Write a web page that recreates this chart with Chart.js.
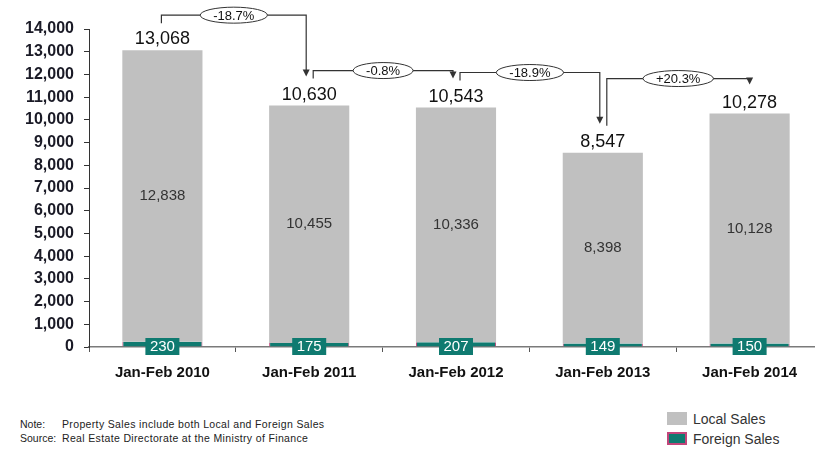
<!DOCTYPE html>
<html>
<head>
<meta charset="utf-8">
<script src="https://cdn.jsdelivr.net/npm/chart.js@4/dist/chart.umd.min.js"></script>
<style>
  html, body { margin: 0; padding: 0; background: #fff; }
  #wrap { position: relative; width: 815px; height: 452px; overflow: hidden; }
  #salesChart { position: absolute; left: 0; top: 0; }
  .note { position: absolute; left: 20px; font: 10.5px "Liberation Sans", Arial, sans-serif; letter-spacing: 0.35px; color: #222; }
  .note span { display: inline-block; width: 42px; letter-spacing: 0; }
  .legend { position: absolute; left: 667px; font: 14px "Liberation Sans", Arial, sans-serif; color: #333; }
  .legend i { display: inline-block; width: 20px; height: 13px; vertical-align: -1px; margin-right: 6px; box-sizing: border-box; }
</style>
</head>
<body>
<div id="wrap">
  <canvas id="salesChart" width="823" height="390"></canvas>
  <div class="note" style="top:418px"><span>Note:</span>Property Sales include both Local and Foreign Sales</div>
  <div class="note" style="top:432px"><span>Source:</span>Real Estate Directorate at the Ministry of Finance</div>
  <div id="legend"></div>
</div>
<script>
// Property sales, Jan-Feb of each year
const categories = ["Jan-Feb 2010", "Jan-Feb 2011", "Jan-Feb 2012", "Jan-Feb 2013", "Jan-Feb 2014"];
const localSales = [12838, 10455, 10336, 8398, 10128];
const foreignSales = [230, 175, 207, 149, 150];
const yMax = 14000;
const yStep = 1000;

const LOCAL_COLOR = "#c0c0c0";
const FOREIGN_COLOR = "#0f7a70";
const FOREIGN_EDGE = "#c2457a";
const FONT = '"Liberation Sans", Arial, sans-serif';

const totals = localSales.map((v, i) => v + foreignSales[i]);
const fmt = n => n.toLocaleString("en-US");

// value labels, totals and the year-on-year change brackets
const labelsPlugin = {
    id: "salesLabels",
    afterDatasetsDraw(chart) {
        const ctx = chart.ctx;
        const foreignBars = chart.getDatasetMeta(0).data;
        const localBars = chart.getDatasetMeta(1).data;
        const yScale = chart.scales.y;
        const tops = localBars.map(b => b.y);

        ctx.save();
        localBars.forEach((bar, i) => {
            // local sales inside the grey bar
            ctx.fillStyle = "#333";
            ctx.font = "15px " + FONT;
            ctx.textAlign = "center";
            ctx.textBaseline = "middle";
            ctx.fillText(fmt(localSales[i]), bar.x, (bar.y + bar.base) / 2);

            // total above the bar
            ctx.fillStyle = "#111";
            ctx.font = "18px " + FONT;
            ctx.textBaseline = "alphabetic";
            ctx.fillText(fmt(totals[i]), bar.x, bar.y - 6);
        });

        // foreign sales tag sitting on the baseline
        const zeroY = yScale.getPixelForValue(0);
        foreignBars.forEach((bar, i) => {
            ctx.fillStyle = FOREIGN_COLOR;
            ctx.fillRect(bar.x - 17, zeroY - 9, 34, 17);
            ctx.fillStyle = "#fff";
            ctx.font = "15px " + FONT;
            ctx.textAlign = "center";
            ctx.textBaseline = "middle";
            ctx.fillText(foreignSales[i], bar.x, zeroY);
        });

        // change brackets between consecutive periods
        ctx.strokeStyle = "#333";
        ctx.lineWidth = 1.2;
        for (let i = 0; i < totals.length - 1; i++) {
            const x0 = localBars[i].x + (i === 0 ? -1 : 4);
            const x1 = localBars[i + 1].x - (i === totals.length - 2 ? 0 : 3);
            const y0 = tops[i] - 27;
            const y1 = tops[i + 1] - 29;
            const yl = Math.min(tops[i], tops[i + 1]) - 35;

            ctx.beginPath();
            ctx.moveTo(x0, y0);
            ctx.lineTo(x0, yl);
            ctx.lineTo(x1, yl);
            ctx.lineTo(x1, y1 - 6);
            ctx.stroke();

            ctx.fillStyle = "#333";
            ctx.beginPath();
            ctx.moveTo(x1 - 3.5, y1 - 7);
            ctx.lineTo(x1 + 3.5, y1 - 7);
            ctx.lineTo(x1, y1);
            ctx.closePath();
            ctx.fill();

            const pct = (totals[i + 1] - totals[i]) / totals[i] * 100;
            const txt = (pct > 0 ? "+" : "") + pct.toFixed(1) + "%";
            ctx.font = '13px "Liberation Sans Narrow", "Arial Narrow", ' + FONT;
            const w = ctx.measureText(txt).width + 26;
            const cx = (x0 + x1) / 2;
            ctx.beginPath();
            ctx.ellipse(cx, yl, w / 2, 8, 0, 0, Math.PI * 2);
            ctx.fillStyle = "#fff";
            ctx.fill();
            ctx.lineWidth = 1;
            ctx.stroke();
            ctx.lineWidth = 1.2;
            ctx.fillStyle = "#111";
            ctx.textAlign = "center";
            ctx.textBaseline = "middle";
            ctx.fillText(txt, cx, yl + 1);
        }
        ctx.restore();
    }
};

const salesChart = new Chart(document.getElementById("salesChart"), {
    type: "bar",
    data: {
        labels: categories,
        datasets: [
            {
                label: "Foreign Sales",
                data: foreignSales,
                backgroundColor: FOREIGN_COLOR,
                borderColor: FOREIGN_EDGE,
                borderWidth: { left: 1, right: 1, top: 0, bottom: 0 },
                borderSkipped: false
            },
            {
                label: "Local Sales",
                data: localSales,
                backgroundColor: LOCAL_COLOR,
                borderWidth: 0
            }
        ]
    },
    options: {
        responsive: false,
        animation: false,
        layout: { padding: { top: 29, left: 0, right: 0, bottom: 0 } },
        categoryPercentage: 1,
        barPercentage: 0.546,
        plugins: { legend: { display: false }, tooltip: { enabled: false } },
        scales: {
            x: {
                stacked: true,
                afterFit: s => { s.height = 43; },
                border: { display: true, color: "#7a7a7a", width: 1.5 },
                grid: { display: true, drawOnChartArea: false, drawTicks: true, tickLength: 5, offset: true, color: "#555" },
                ticks: { color: "#111", padding: 12, font: { family: FONT, size: 15, weight: "bold" } }
            },
            y: {
                stacked: true,
                min: 0,
                max: yMax,
                afterFit: s => { s.width = 89; },
                border: { display: true, color: "#333", width: 1 },
                grid: { display: true, drawOnChartArea: false, drawTicks: true, tickLength: 5, color: "#333" },
                ticks: {
                    stepSize: yStep,
                    padding: 10,
                    color: "#1a1a26",
                    font: { family: FONT, size: 16, weight: "bold" },
                    callback: v => fmt(v)
                }
            }
        }
    },
    plugins: [labelsPlugin]
});

// legend built from the dataset colours
const legendEl = document.getElementById("legend");
[
    { text: "Local Sales", bg: LOCAL_COLOR, edge: LOCAL_COLOR, top: 411 },
    { text: "Foreign Sales", bg: FOREIGN_COLOR, edge: FOREIGN_EDGE, top: 431 }
].forEach(item => {
    const row = document.createElement("div");
    row.className = "legend";
    row.style.top = item.top + "px";
    row.innerHTML = `<i style="background:${item.bg};border:2px solid ${item.edge}"></i>${item.text}`;
    legendEl.appendChild(row);
});
</script>
</body>
</html>
